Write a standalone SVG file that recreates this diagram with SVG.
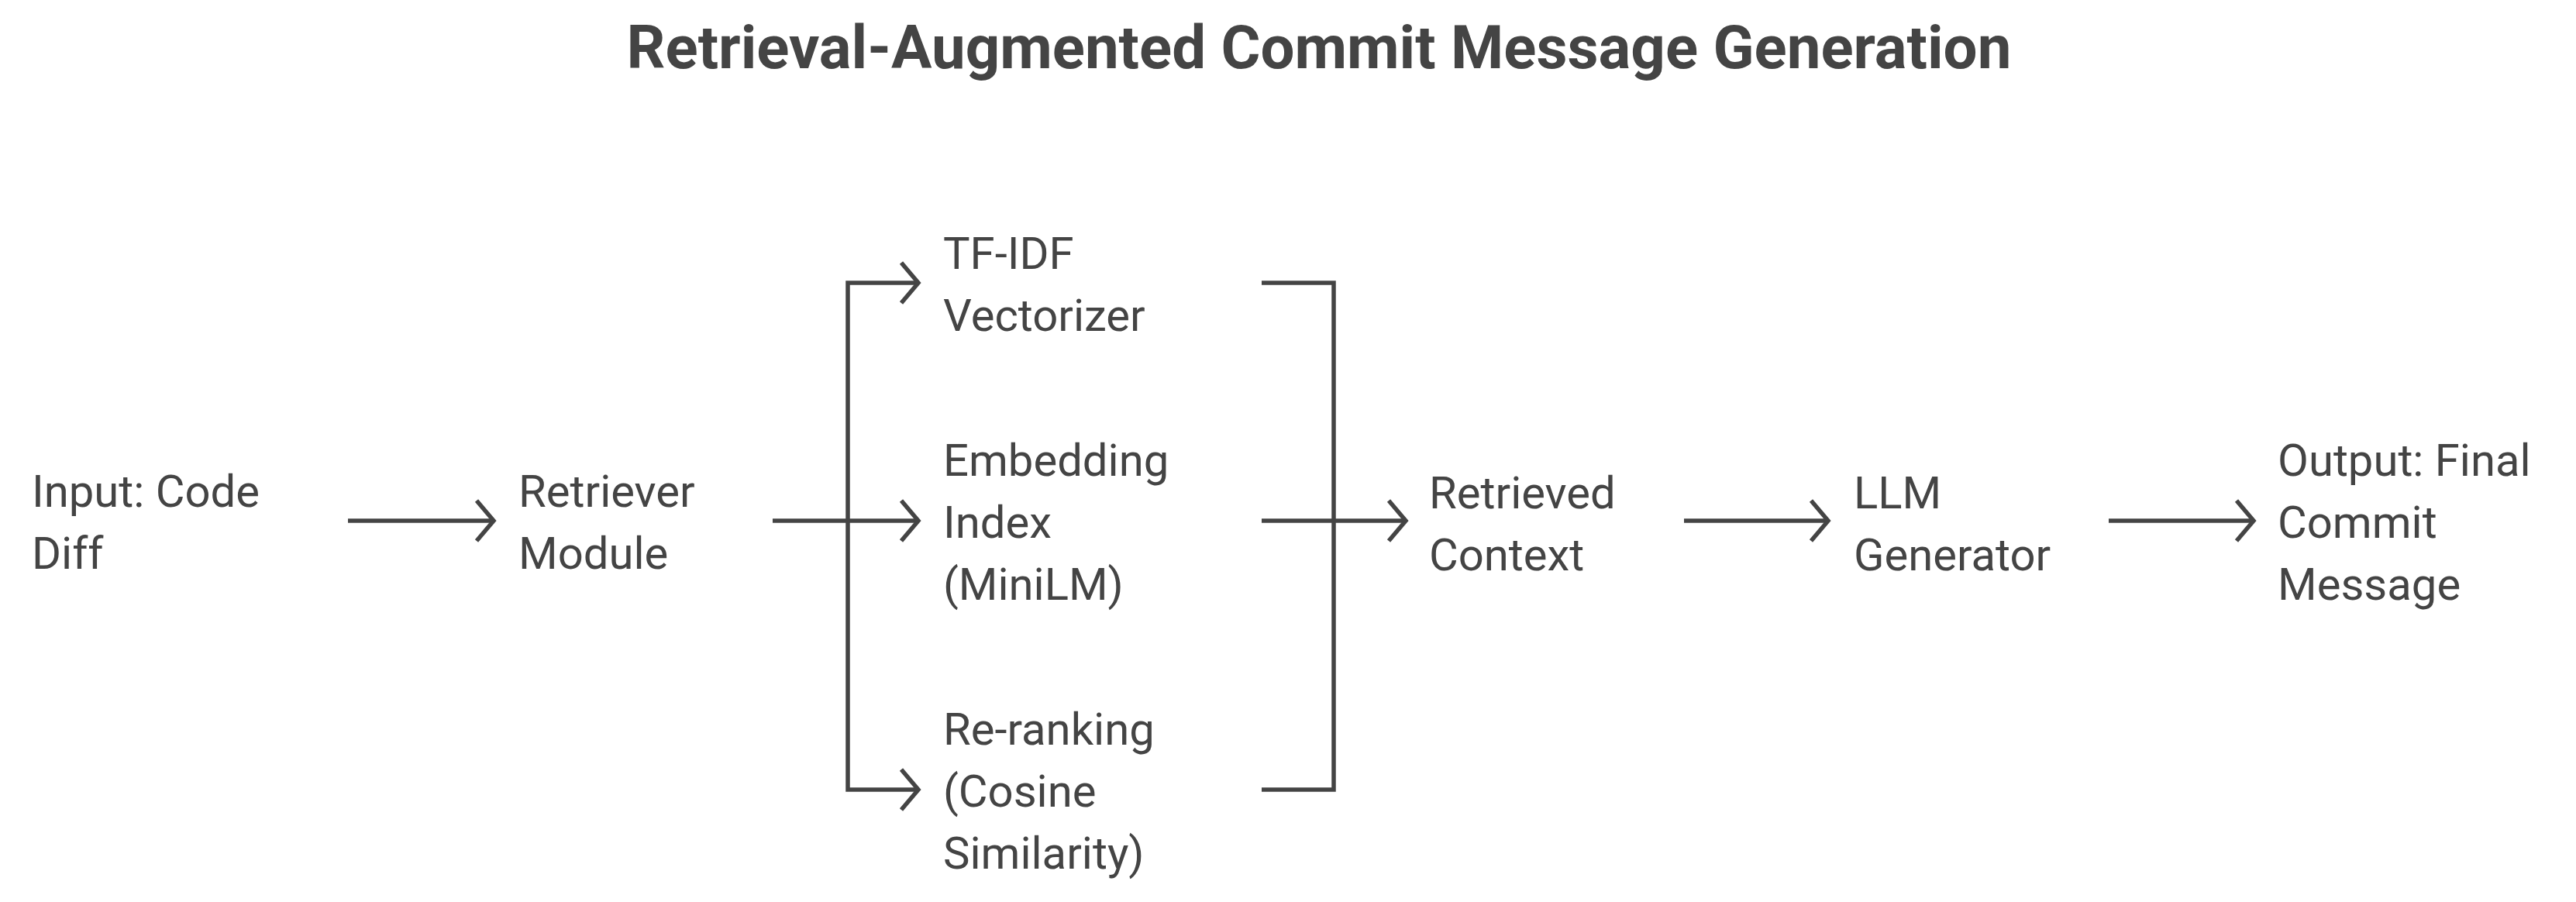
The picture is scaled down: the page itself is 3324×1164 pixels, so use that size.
<svg xmlns="http://www.w3.org/2000/svg" width="3324" height="1164" viewBox="0 0 3324 1164">
<style>
text{font-family:Roboto,"Liberation Sans",sans-serif;fill:#444;font-size:58px}
.t{font-weight:bold;font-size:78px;text-anchor:middle}
.c{stroke:#444;stroke-width:5.5;fill:none}
</style>
<defs><marker id="a" markerWidth="30" markerHeight="60" refX="26" refY="30" markerUnits="userSpaceOnUse" orient="auto"><path d="M4,4 L26,30 L4,56" fill="none" stroke="#444" stroke-width="5.5"/></marker></defs>
<rect width="3324" height="1164" fill="#fff"/>
<text class="t" x="1702" y="88">Retrieval-Augmented Commit Message Generation</text>
<g id="connectors" class="c">
<path d="M449,672 H637" marker-end="url(#a)"/>
<path d="M997,672 H1185" marker-end="url(#a)"/>
<path d="M1094,672 V365 H1185" marker-end="url(#a)"/>
<path d="M1094,672 V1019 H1185" marker-end="url(#a)"/>
<path d="M1628,365 H1721 V1019 H1628"/>
<path d="M1628,672 H1814" marker-end="url(#a)"/>
<path d="M2173,672 H2359" marker-end="url(#a)"/>
<path d="M2721,672 H2908" marker-end="url(#a)"/>
</g>
<g id="input"><text x="41" y="654">Input: Code</text><text x="41" y="734">Diff</text></g>
<g id="retriever"><text x="669" y="654">Retriever</text><text x="669" y="734">Module</text></g>
<g id="tfidf"><text x="1217" y="347">TF-IDF</text><text x="1217" y="427">Vectorizer</text></g>
<g id="embedding"><text x="1217" y="614">Embedding</text><text x="1217" y="694">Index</text><text x="1217" y="774">(MiniLM)</text></g>
<g id="rerank"><text x="1217" y="961">Re-ranking</text><text x="1217" y="1041">(Cosine</text><text x="1217" y="1121">Similarity)</text></g>
<g id="context"><text x="1844" y="656">Retrieved</text><text x="1844" y="736">Context</text></g>
<g id="llm"><text x="2392" y="656">LLM</text><text x="2392" y="736">Generator</text></g>
<g id="output"><text x="2939" y="614">Output: Final</text><text x="2939" y="694">Commit</text><text x="2939" y="774">Message</text></g>
</svg>
